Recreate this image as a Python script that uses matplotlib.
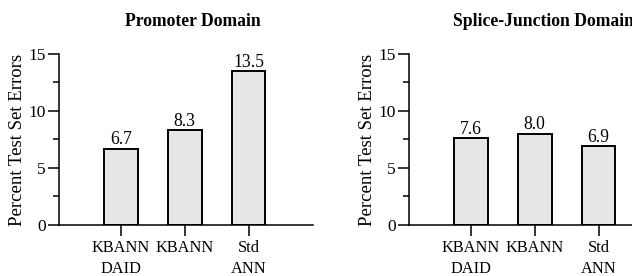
import matplotlib.pyplot as plt
from matplotlib.ticker import MultipleLocator

plt.rcParams['font.family'] = ['Liberation Serif', 'DejaVu Serif']
plt.rcParams['font.size'] = 12.5

# data
methods = ['KBANN\nDAID', 'KBANN', 'Std\nANN']
promoter_errors = [6.7, 8.3, 13.5]
splice_errors = [7.6, 8.0, 6.9]
titles = ['Promoter Domain', 'Splice-Junction Domain']

fig = plt.figure(figsize=(6.32, 2.76), dpi=100)

# (axes left, values, title, title x in px, title alignment)
panels = [
    (0.0934, promoter_errors, titles[0], 193, 'center'),
    (0.6472, splice_errors, titles[1], 453, 'left'),
]

for left, vals, title, title_x, title_ha in panels:
    ax = fig.add_axes([left, 0.1848, 0.4019, 0.6196])
    x = range(len(vals))
    ax.bar(x, vals, width=0.53, color='#e6e6e6', edgecolor='black',
           linewidth=1.4, zorder=2)
    for xi, v in zip(x, vals):
        ax.text(xi, v + 0.05, f'{v:.1f}', ha='center', va='bottom',
                fontsize=12.7)

    ax.set_xlim(-0.97, 3.01)
    ax.set_ylim(0, 15)
    ax.yaxis.set_major_locator(MultipleLocator(5))
    ax.yaxis.set_minor_locator(MultipleLocator(2.5))
    ax.set_xticks(list(x))
    ax.set_xticklabels(methods, va='top', linespacing=1.4, fontsize=11.8)

    for s in ['top', 'right']:
        ax.spines[s].set_visible(False)
    for s in ['left', 'bottom']:
        ax.spines[s].set_linewidth(1.1)
    ax.tick_params(axis='y', which='major', direction='out', length=8,
                   width=1.1, pad=1.5)
    ax.tick_params(axis='y', which='minor', direction='out', length=4,
                   width=1.1)
    ax.tick_params(axis='x', direction='out', length=8, width=1.1, pad=3)
    ax.set_ylabel('Percent Test Set Errors', fontsize=13.5, va='center')
    ax.yaxis.set_label_coords(-0.165, 0.5)

    fig.text(title_x / 632, 1 - 21 / 276, title, ha=title_ha, va='center',
             fontsize=12.7, fontweight='bold')

fig.savefig('out.png', dpi=100, facecolor='white')
